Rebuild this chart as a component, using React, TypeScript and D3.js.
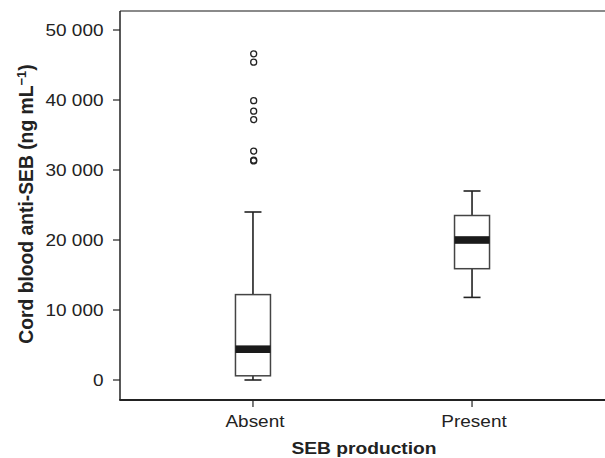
import React, { useEffect, useRef } from "react";
import * as d3 from "d3";

// box plot summary
const categories = ["Absent", "Present"];
const whiskerLow = [0, 11800];
const q1 = [600, 15900];
const median = [4400, 20000];
const q3 = [12200, 23500];
const whiskerHigh = [24000, 27000];
const outliersAbsent = [46600, 45400, 39900, 38400, 37200, 32700, 31400, 31300];
const outliersPresent: number[] = [];
const yTicks = [0, 10000, 20000, 30000, 40000, 50000];

const App = () => {
  const ref = useRef<SVGSVGElement>(null);

  useEffect(() => {
    const width = 605;
    const height = 458;
    const left = 120;
    const top = 11;
    const bottom = 400;

    const svg = d3.select(ref.current);
    svg.selectAll("*").remove();
    svg.attr("width", width).attr("height", height);

    const x = d3.scalePoint().domain(categories).range([left, width]).padding(0.607);
    const y = d3.scaleLinear().domain([0, 50000]).range([380, 30]);

    const fmt = (v: number) => d3.format(",")(v).replace(/,/g, " ");
    const font = "'Liberation Sans', Arial, Helvetica, sans-serif";
    const stretch = 1.15;

    // frame: grey top, dark left + bottom
    svg.append("line")
      .attr("x1", left).attr("x2", width).attr("y1", top).attr("y2", top)
      .attr("stroke", "#8a8a8a").attr("stroke-width", 2);
    svg.append("line")
      .attr("x1", left).attr("x2", left).attr("y1", top).attr("y2", bottom)
      .attr("stroke", "#222").attr("stroke-width", 1.5);
    svg.append("line")
      .attr("x1", left - 0.75).attr("x2", width).attr("y1", bottom).attr("y2", bottom)
      .attr("stroke", "#222").attr("stroke-width", 1.8);

    // y ticks
    const yt = svg.append("g");
    yTicks.forEach((t) => {
      yt.append("line")
        .attr("x1", left - 7).attr("x2", left).attr("y1", y(t)).attr("y2", y(t))
        .attr("stroke", "#222").attr("stroke-width", 1.2);
      yt.append("text")
        .attr("transform", `translate(${left - 16.5},${y(t) + 6}) scale(${stretch},1)`)
        .attr("text-anchor", "end")
        .attr("font-family", font)
        .attr("font-size", 16.5)
        .attr("fill", "#222")
        .text(fmt(t));
    });

    // x ticks
    categories.forEach((c) => {
      const cx = x(c) as number;
      svg.append("line")
        .attr("x1", cx).attr("x2", cx).attr("y1", bottom).attr("y2", bottom + 7)
        .attr("stroke", "#222").attr("stroke-width", 1.2);
      svg.append("text")
        .attr("transform", `translate(${cx + 2},${427}) scale(${stretch},1)`)
        .attr("text-anchor", "middle")
        .attr("font-family", font)
        .attr("font-size", 16.5)
        .attr("fill", "#222")
        .text(c);
    });

    // axis titles
    svg.append("text")
      .attr("transform", `translate(364,454) scale(${stretch},1)`)
      .attr("text-anchor", "middle")
      .attr("font-family", font)
      .attr("font-size", 16.7)
      .attr("font-weight", "bold")
      .attr("fill", "#222")
      .text("SEB production");

    const yl = svg.append("text")
      .attr("transform", "translate(33,204) rotate(-90)")
      .attr("text-anchor", "middle")
      .attr("font-family", font)
      .attr("font-size", 19.3)
      .attr("font-weight", "bold")
      .attr("fill", "#222");
    yl.append("tspan").text("Cord blood anti-SEB (ng mL");
    yl.append("tspan").attr("dy", -7).attr("font-size", 13).text("\u22121");
    yl.append("tspan").attr("dy", 7).text(")");

    // boxes
    const boxW = 35;
    const capW = 17;
    categories.forEach((c, i) => {
      const cx = x(c) as number;
      const g = svg.append("g");
      // whiskers
      g.append("line")
        .attr("x1", cx).attr("x2", cx).attr("y1", y(whiskerHigh[i])).attr("y2", y(q3[i]))
        .attr("stroke", "#222").attr("stroke-width", 1.6);
      g.append("line")
        .attr("x1", cx).attr("x2", cx).attr("y1", y(q1[i])).attr("y2", y(whiskerLow[i]))
        .attr("stroke", "#222").attr("stroke-width", 1.6);
      [whiskerHigh[i], whiskerLow[i]].forEach((v) => {
        g.append("line")
          .attr("x1", cx - capW / 2).attr("x2", cx + capW / 2).attr("y1", y(v)).attr("y2", y(v))
          .attr("stroke", "#222").attr("stroke-width", 1.6);
      });
      // box
      g.append("rect")
        .attr("x", cx - boxW / 2).attr("width", boxW)
        .attr("y", y(q3[i])).attr("height", y(q1[i]) - y(q3[i]))
        .attr("fill", "#fff").attr("stroke", "#444").attr("stroke-width", 1.5);
      // median band
      g.append("rect")
        .attr("x", cx - boxW / 2).attr("width", boxW)
        .attr("y", y(median[i]) - 3.8).attr("height", 7.6)
        .attr("fill", "#1a1a1a");
    });

    // outliers
    const outliers = [outliersAbsent, outliersPresent];
    categories.forEach((c, i) => {
      const cx = (x(c) as number) + 0.7;
      svg.append("g")
        .selectAll("circle")
        .data(outliers[i])
        .enter()
        .append("circle")
        .attr("cx", cx)
        .attr("cy", (d) => y(d))
        .attr("r", 3)
        .attr("fill", "none")
        .attr("stroke", "#222")
        .attr("stroke-width", 1.3);
    });
  }, []);

  return (
    <svg ref={ref} style={{ position: "absolute", left: 0, top: 0, background: "#fff" }} />
  );
};

export default App;
